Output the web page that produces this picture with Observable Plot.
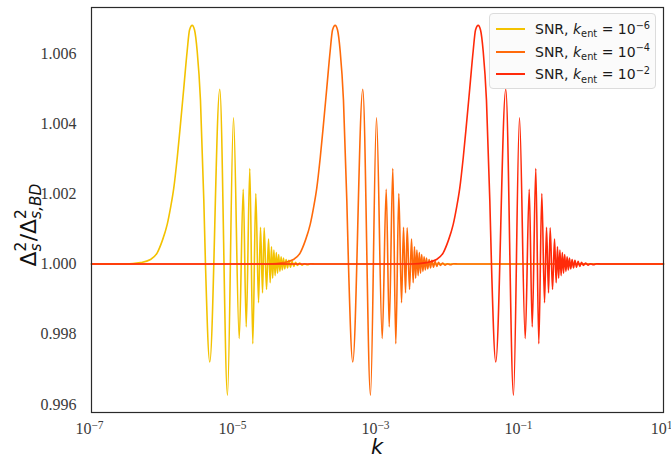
<!DOCTYPE html>
<html><head><meta charset="utf-8">
<script src="https://cdn.jsdelivr.net/npm/d3@7"></script>
<script src="https://cdn.jsdelivr.net/npm/@observablehq/plot@0.6"></script>
<style>
html,body{margin:0;padding:0;background:#fff;}
#wrap{position:relative;width:671px;height:460px;overflow:hidden;}
#legend{position:absolute;left:489px;top:13px;width:167px;height:76px;box-sizing:border-box;background:rgba(250,250,250,0.85);border:1px solid #dcdcdc;border-radius:4px;font-family:"DejaVu Sans";font-size:14px;color:#1a1a1a;}
.row{position:absolute;left:0;width:100%;height:20px;}
.sw{position:absolute;left:6px;top:9px;width:29px;height:0;border-top:2px solid;}
.lbl{position:absolute;left:45px;top:0;line-height:20px;white-space:nowrap;}
.sub{font-size:70%;position:relative;top:0.35em;}
.sup{font-size:70%;position:relative;top:-0.55em;}
</style></head>
<body><div id="wrap"></div>
<script>
// ---- data ----
const kEnt = [1e-6, 1e-4, 1e-2];
const kEntExp = ["−6", "−4", "−2"];
const colors = ["#f3c200", "#ff6a0a", "#ff2a0a"];
// profile: position in decades relative to k_ent, and the ratio value
const profileDecades = [-0.524,-0.315,-0.175,-0.081,-0.011,0.059,0.105,0.151,0.199,0.245,0.291,0.338,0.371,0.408,0.441,0.478,0.524,0.571,0.594,0.654,0.794,0.902,0.986,1.066,1.122,1.164,1.214,1.256,1.298,1.336,1.364,1.392,1.415,1.448,1.476,1.499,1.517,1.534,1.551,1.568,1.585,1.601,1.618,1.635,1.652,1.669,1.685,1.703,1.722,1.741,1.761,1.783,1.806,1.829,1.853,1.881,1.909,1.944,1.979,2.021,2.063,2.133];
const profileRatio = [1.00000,1.00004,1.00013,1.00032,1.00066,1.00113,1.00160,1.00217,1.00303,1.00400,1.00502,1.00607,1.00667,1.00680,1.00667,1.00607,1.00467,1.00180,1.00000,0.99721,1.00498,0.99626,1.00417,0.99788,1.00213,0.99821,1.00272,0.99773,1.00201,0.99890,1.00105,0.99918,1.00103,0.99928,1.00071,0.99947,1.00049,0.99960,1.00040,0.99967,1.00033,0.99974,1.00027,0.99979,1.00021,0.99983,1.00017,0.99986,1.00013,0.99989,1.00011,0.99991,1.00008,0.99993,1.00005,0.99996,1.00003,0.99997,1.00001,0.99998,1.00001,1.00000];
const xTicks = [1e-7, 1e-5, 1e-3, 1e-1, 1e1];
const yTicks = [0.996, 0.998, 1.000, 1.002, 1.004, 1.006];
const xDomain = [1e-7, 10];
const yDomain = [0.99577, 1.00731];

const data = [];
kEnt.forEach((ke, i) => {
  data.push({s: i, k: xDomain[0], r: 1});
  profileDecades.forEach((d, j) => data.push({s: i, k: ke * Math.pow(10, d), r: profileRatio[j]}));
  data.push({s: i, k: xDomain[1], r: 1});
});

const chart = Plot.plot({
  width: 671, height: 460,
  marginLeft: 91, marginRight: 8, marginTop: 7, marginBottom: 48,
  style: {fontFamily: "'Liberation Serif', serif", fontSize: "16px", color: "#333", background: "#fff", overflow: "visible"},
  x: {type: "log", domain: xDomain, ticks: xTicks, tickSize: 0, tickPadding: 10, label: null,
      tickFormat: d => "10|" + String(Math.round(Math.log10(d))).replace("-", "−")},
  y: {domain: yDomain, ticks: yTicks, tickFormat: d3.format(".3f"), tickSize: 0, tickPadding: 15, label: null},
  marks: [
    ...kEnt.map((ke, i) => Plot.line(data.filter(d => d.s === i), {x: "k", y: "r", stroke: colors[i], strokeWidth: 1.6, curve: "monotone-x"})),
    Plot.frame({stroke: "#2a2a2a", strokeWidth: 1.2})
  ]
});

const svg = d3.select(chart);
svg.selectAll('g[aria-label="x-axis tick label"] text, g[aria-label="y-axis tick label"] text')
  .style("font-family", "'Liberation Serif', serif").style("font-size", "16px")
  .style("font-variant", "normal").attr("fill", "#3a3a3a");
svg.selectAll('g[aria-label="x-axis tick label"] text').each(function() {
  const t = d3.select(this);
  const parts = t.text().split("|");
  t.text(null);
  t.append("tspan").text(parts[0]);
  t.append("tspan").attr("font-size", 11.5).attr("dy", "-0.45em").text(parts[1]);
  t.attr("dx", -2);
});

// y label
const yl = svg.append("text").attr("transform", "translate(36,225) rotate(-90)")
  .attr("text-anchor", "middle").attr("font-family", "DejaVu Sans").attr("font-size", 22).attr("fill", "#111");
yl.append("tspan").text("Δ");
yl.append("tspan").attr("font-size", 15.4).attr("dy", -10).text("2");
yl.append("tspan").attr("font-size", 15.4).attr("font-style", "italic").attr("dx", -9.8).attr("dy", 15).text("s");
yl.append("tspan").attr("dx", 2).attr("dy", -5).text("/Δ");
yl.append("tspan").attr("font-size", 15.4).attr("dy", -10).text("2");
yl.append("tspan").attr("font-size", 15.4).attr("font-style", "italic").attr("dx", -9.8).attr("dy", 15).text("s,BD");

// x label
svg.append("text").attr("x", 377).attr("y", 454).attr("text-anchor", "middle")
  .attr("font-family", "DejaVu Sans").attr("font-style", "italic").attr("font-size", 21).attr("fill", "#111").text("k");

const wrap = document.getElementById("wrap");
wrap.appendChild(chart);

const legend = document.createElement("div");
legend.id = "legend";
const rowTops = [5, 27.7, 50.3];
kEnt.forEach((ke, i) => {
  const row = document.createElement("div");
  row.className = "row";
  row.style.top = rowTops[i] + "px";
  row.innerHTML = `<div class="sw" style="border-color:${colors[i]}"></div><div class="lbl">SNR, <i>k</i><span class="sub">ent</span> = 10<span class="sup">${kEntExp[i]}</span></div>`;
  legend.appendChild(row);
});
wrap.appendChild(legend);
</script></body></html>
